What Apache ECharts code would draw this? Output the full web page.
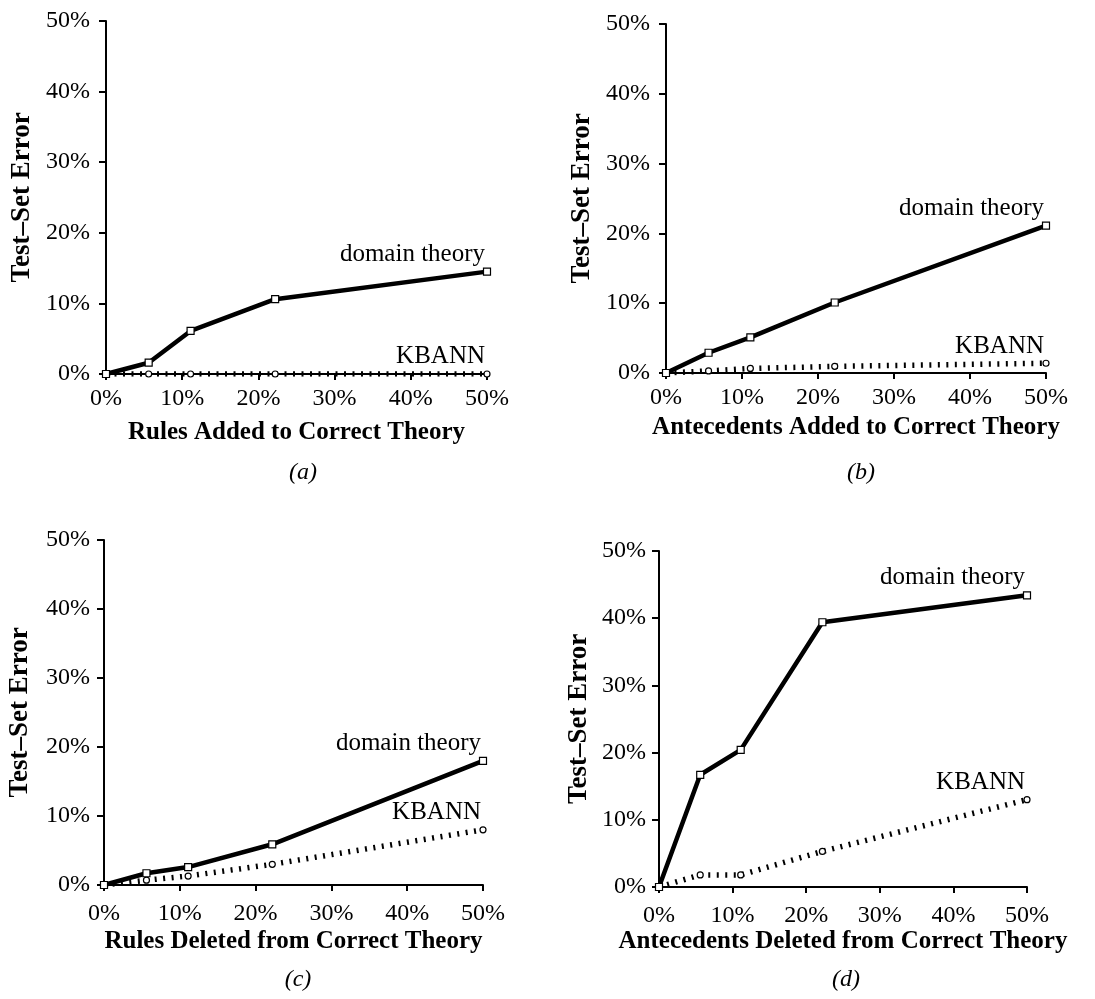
<!DOCTYPE html>
<html>
<head>
<meta charset="utf-8">
<style>
  html, body { margin: 0; padding: 0; background: #fff; }
  #chart { width: 1095px; height: 999px; }
</style>
<script src="https://cdn.jsdelivr.net/npm/echarts@6/dist/echarts.min.js"></script>
</head>
<body>
<div id="chart"></div>
<script>
// Fraction of the theory perturbed (%), shared by all four panels
var perturbation = [0, 5.6, 11.1, 22.2, 50];

// Test-set error (%) per panel
var rulesAddedDomain = [0, 1.6, 6.1, 10.6, 14.5];
var rulesAddedKbann = [0, 0, 0, 0, 0];
var antecedentsAddedDomain = [0, 2.9, 5.1, 10.1, 21.1];
var antecedentsAddedKbann = [0, 0.3, 0.65, 0.95, 1.4];
var rulesDeletedDomain = [0, 1.7, 2.6, 5.9, 18.0];
var rulesDeletedKbann = [0, 0.7, 1.3, 3.0, 8.0];
var antecedentsDeletedDomain = [0, 16.7, 20.4, 39.4, 43.4];
var antecedentsDeletedKbann = [0, 1.8, 1.8, 5.3, 13.0];

var xAxisTitles = [
  'Rules Added to Correct Theory',
  'Antecedents Added to Correct Theory',
  'Rules Deleted from Correct Theory',
  'Antecedents Deleted from Correct Theory'
];
var panelCaptions = ['(a)', '(b)', '(c)', '(d)'];
var yAxisTitle = 'Test\u2013Set Error';
var domainName = 'domain theory';
var kbannName = 'KBANN';

var domainSets = [rulesAddedDomain, antecedentsAddedDomain, rulesDeletedDomain, antecedentsDeletedDomain];
var kbannSets = [rulesAddedKbann, antecedentsAddedKbann, rulesDeletedKbann, antecedentsDeletedKbann];

var SERIF = '"Liberation Serif", "Times New Roman", serif';

// panel layout
var grids = [
  { left: 106, top: 21, width: 381, height: 353 },
  { left: 666, top: 24, width: 380, height: 349 },
  { left: 104, top: 540, width: 379, height: 345 },
  { left: 659, top: 551, width: 368, height: 336 }
];
var xNameGaps = [46, 42, 44, 42];
var xLabelMargins = [13, 13, 17, 17];
var yLabelMargins = [16, 16, 14, 13];
var yNameGaps = [70, 70, 70, 66];
var captionPos = [
  { x: 298, y: 470 },
  { x: 856, y: 470 },
  { x: 293, y: 977 },
  { x: 841, y: 977 }
];

function pairs(ys) {
  return perturbation.map(function (x, i) { return [x, ys[i]]; });
}

function withEndLabel(points, text) {
  var out = points.map(function (p) { return { value: p }; });
  out[out.length - 1].label = {
    show: true,
    formatter: text,
    position: 'top',
    align: 'right',
    verticalAlign: 'bottom',
    distance: 1,
    offset: [-2, 0],
    color: '#000',
    fontFamily: SERIF,
    fontSize: 25
  };
  return out;
}

var axisLineStyle = { color: '#000', width: 2 };

var option = {
  backgroundColor: '#fff',
  animation: false,
  grid: grids.map(function (g) {
    return { left: g.left, top: g.top, width: g.width, height: g.height, containLabel: false };
  }),
  xAxis: grids.map(function (g, i) {
    return {
      gridIndex: i,
      type: 'value',
      min: 0, max: 50, interval: 10,
      name: xAxisTitles[i],
      nameLocation: 'middle',
      nameGap: xNameGaps[i],
      nameTextStyle: { fontFamily: SERIF, fontWeight: 'bold', fontSize: 25, color: '#000' },
      axisLine: { show: true, onZero: false, lineStyle: axisLineStyle },
      axisTick: { show: true, inside: false, length: 6, lineStyle: axisLineStyle },
      splitLine: { show: false },
      axisLabel: {
        formatter: '{value}%', margin: xLabelMargins[i], color: '#000',
        fontFamily: SERIF, fontSize: 24
      }
    };
  }),
  yAxis: grids.map(function (g, i) {
    return {
      gridIndex: i,
      type: 'value',
      min: 0, max: 50, interval: 10,
      name: yAxisTitle,
      nameLocation: 'middle',
      nameGap: yNameGaps[i],
      nameRotate: 90,
      nameTextStyle: { fontFamily: SERIF, fontWeight: 'bold', fontSize: 27, color: '#000' },
      axisLine: { show: true, onZero: false, lineStyle: axisLineStyle },
      axisTick: { show: true, inside: false, length: 7, lineStyle: axisLineStyle },
      splitLine: { show: false },
      axisLabel: {
        formatter: '{value}%', margin: yLabelMargins[i], color: '#000',
        fontFamily: SERIF, fontSize: 24
      }
    };
  }),
  title: captionPos.map(function (p, i) {
    return {
      text: panelCaptions[i],
      left: p.x, top: p.y - 14,
      textAlign: 'center',
      textStyle: { fontFamily: SERIF, fontStyle: 'italic', fontWeight: 'normal', fontSize: 24, color: '#000' }
    };
  }),
  series: []
};

for (var i = 0; i < 4; i++) {
  option.series.push({
    type: 'line',
    name: kbannName,
    xAxisIndex: i, yAxisIndex: i,
    data: withEndLabel(pairs(kbannSets[i]), kbannName),
    symbol: 'circle',
    symbolSize: 6,
    showAllSymbol: true,
    lineStyle: { color: '#000', width: 5.5, type: [2, 6.5] },
    itemStyle: { color: '#fff', borderColor: '#000', borderWidth: 1.2 },
    z: 3
  });
  option.series.push({
    type: 'line',
    name: domainName,
    xAxisIndex: i, yAxisIndex: i,
    data: withEndLabel(pairs(domainSets[i]), domainName),
    symbol: 'rect',
    symbolSize: 7,
    showAllSymbol: true,
    lineStyle: { color: '#000', width: 4.5 },
    itemStyle: { color: '#fff', borderColor: '#000', borderWidth: 1.2 },
    z: 4
  });
}

var chart = echarts.init(document.getElementById('chart'), null, { renderer: 'canvas' });
chart.setOption(option);
</script>
</body>
</html>
